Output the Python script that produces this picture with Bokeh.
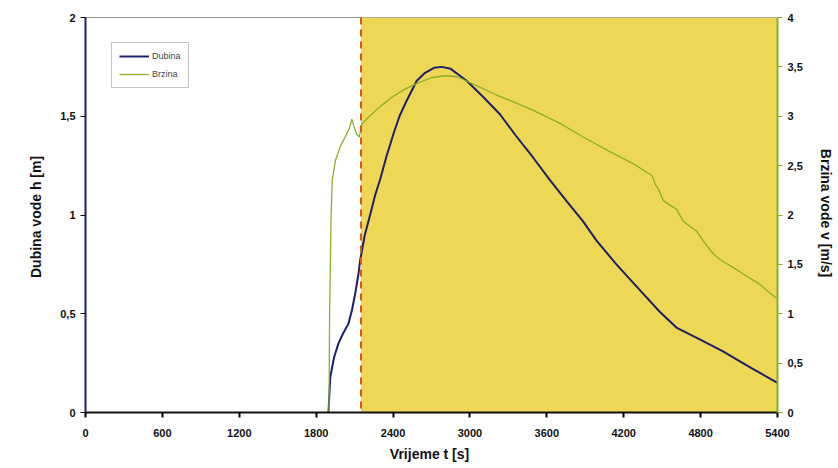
from bokeh.plotting import figure
from bokeh.models import Range1d, LinearAxis, FixedTicker, Legend, LegendItem, Span
from bokeh.embed import file_html
from bokeh.resources import INLINE

# ---- data ----
t_depth = [1896, 1910, 1940, 1974, 2010, 2052, 2080, 2104, 2130, 2143, 2180, 2221, 2260, 2299,
           2350, 2403, 2450, 2507, 2585, 2650, 2720, 2780, 2850, 2974, 3100, 3234, 3360, 3494,
           3620, 3754, 3880, 3988, 4143, 4326, 4481, 4611, 4793, 4975, 5183, 5400]
depth = [0.0, 0.18, 0.28, 0.35, 0.40, 0.45, 0.52, 0.60, 0.70, 0.77, 0.90, 1.00, 1.10, 1.18,
         1.30, 1.41, 1.50, 1.58, 1.68, 1.72, 1.745, 1.75, 1.74, 1.68, 1.60, 1.51, 1.40, 1.29,
         1.18, 1.07, 0.97, 0.87, 0.75, 0.62, 0.51, 0.43, 0.37, 0.31, 0.23, 0.15]

t_vel = [1900, 1905, 1915, 1925, 1950, 1990, 2030, 2060, 2078, 2095, 2115, 2137, 2156, 2200,
         2300, 2400, 2500, 2600, 2700, 2800, 2900, 3052, 3200, 3350, 3494, 3700, 3884, 4080,
         4273, 4420, 4450, 4468, 4507, 4560, 4611, 4663, 4720, 4767, 4830, 4897, 4950, 5053,
         5160, 5261, 5330, 5400]
velocity = [0.0, 1.0, 1.9, 2.35, 2.55, 2.70, 2.80, 2.88, 2.97, 2.90, 2.82, 2.79, 2.92, 2.98,
            3.10, 3.20, 3.28, 3.34, 3.39, 3.41, 3.40, 3.31, 3.22, 3.14, 3.06, 2.93, 2.79, 2.65,
            2.52, 2.40, 2.30, 2.27, 2.15, 2.10, 2.06, 1.94, 1.88, 1.84, 1.72, 1.61, 1.55, 1.47,
            1.38, 1.30, 1.22, 1.15]

x_ticks = [0, 600, 1200, 1800, 2400, 3000, 3600, 4200, 4800, 5400]
h_ticks = [0, 0.5, 1, 1.5, 2]
v_ticks = [0, 0.5, 1, 1.5, 2, 2.5, 3, 3.5, 4]
marker_time = 2150
series_names = ["Dubina", "Brzina"]

FONT = "Liberation Sans"
NAVY = "#1c1f6b"
GREEN = "#8aae2c"

p = figure(width=836, height=466, output_backend="svg", toolbar_location=None,
           x_range=Range1d(0, 5400), y_range=Range1d(0, 2),
           min_border_left=85, min_border_right=58, min_border_top=17, min_border_bottom=54)
p.extra_y_ranges = {"v": Range1d(0, 4)}
p.grid.visible = False
p.outline_line_color = "#9a9a9a"
p.background_fill_color = "white"

# shaded region
p.quad(left=[marker_time], right=[5400], bottom=[0], top=[2],
       fill_color="#efd756", line_color=None)

r1 = p.line(t_depth, depth, line_color=NAVY, line_width=2)
r2 = p.line(t_vel, velocity, line_color=GREEN, line_width=1.3, y_range_name="v")

p.add_layout(Span(location=marker_time, dimension="height", line_color="#d9541e",
                  line_width=2, line_dash="7 5"))

def fmt(v):
    return ("%g" % v).replace(".", ",")

# axes
xa = p.xaxis[0]
xa.ticker = FixedTicker(ticks=x_ticks)
xa.axis_label = "Vrijeme t  [s]"
ya = p.yaxis[0]
ya.ticker = FixedTicker(ticks=h_ticks)
ya.major_label_overrides = {v: fmt(v) for v in h_ticks}
ya.axis_label = "Dubina vode h  [m]"
ya.axis_line_color = NAVY
ya.axis_line_width = 2

ra = LinearAxis(y_range_name="v", ticker=FixedTicker(ticks=v_ticks),
                axis_label="Brzina vode v  [m/s]")
ra.major_label_overrides = {v: fmt(v) for v in v_ticks}
ra.axis_line_color = GREEN
ra.axis_line_width = 2
ra.major_tick_line_color = GREEN
p.add_layout(ra, "right")

for ax in [xa, ya, ra]:
    ax.minor_tick_line_color = None
    ax.major_tick_out = 5
    ax.major_tick_in = 0
    ax.major_label_text_font = FONT
    ax.major_label_text_font_style = "bold"
    ax.major_label_text_font_size = "11px"
    ax.major_label_text_color = "#111111"
    ax.axis_label_text_font = FONT
    ax.axis_label_text_font_style = "bold"
    ax.axis_label_text_font_size = "14px"
    ax.axis_label_text_color = "#111111"
    ax.axis_label_standoff = 8
xa.axis_line_width = 2
xa.axis_line_color = "#111111"
xa.major_tick_line_width = 2
xa.major_label_standoff = 11
xa.axis_label_standoff = 6
ya.axis_label_standoff = 13
ra.axis_label_standoff = 12

legend = Legend(items=[LegendItem(label=series_names[0], renderers=[r1]),
                       LegendItem(label=series_names[1], renderers=[r2])],
                location=(26, 324))
legend.label_text_font = FONT
legend.label_text_font_size = "9px"
legend.glyph_width = 30
legend.glyph_height = 12
legend.spacing = 6
legend.padding = 7
legend.label_standoff = 3
legend.border_line_color = "#888888"
legend.background_fill_alpha = 1
p.add_layout(legend, "center")

open("out.html", "w").write(file_html(p, INLINE))
